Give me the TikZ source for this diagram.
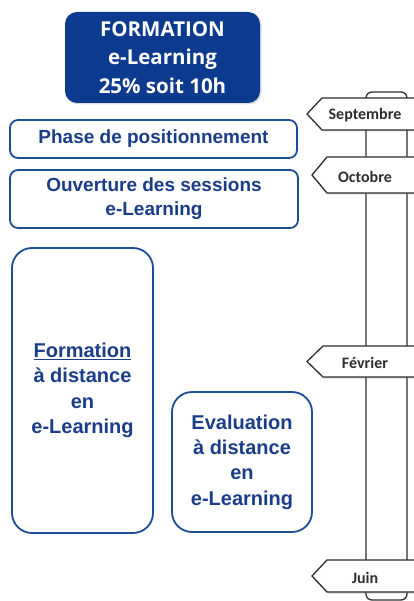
\documentclass[tikz,border=0pt]{standalone}
\usepackage{fontspec}
\setmainfont{Liberation Sans}
\newfontfamily\headfont{Open Sans}
\newfontfamily\signfont{Carlito}
\usetikzlibrary{shadows}
\definecolor{navy}{HTML}{0B3A8E}
\definecolor{boxline}{HTML}{1F4C98}
\definecolor{boxtext}{HTML}{1B3D88}
\definecolor{postline}{HTML}{2E2E2E}

\begin{document}
\begin{tikzpicture}[x=1pt,y=-1pt,
    head/.style={fill=navy, rounded corners=12pt, text=white, align=center,
      font=\headfont\bfseries\fontsize{20.5}{28.5}\selectfont,
      drop shadow={opacity=0.25,shadow xshift=1.5pt,shadow yshift=-1.5pt}},
    phase/.style={draw=boxline, line width=1.8pt, fill=white, text=boxtext,
      align=center, inner sep=0pt, font=\bfseries\fontsize{19}{24}\selectfont},
    bigphase/.style={phase, rounded corners=20pt, font=\bfseries\fontsize{20}{25.3}\selectfont},
    sign/.style={draw=postline, line width=1.3pt, fill=white,
      drop shadow={opacity=0.3,shadow xshift=1pt,shadow yshift=-1.5pt}},
    signtext/.style={text=postline, font=\signfont\bfseries\fontsize{16}{18}\selectfont}]
    \clip (0,0) rectangle (414,601);
    % bloc de titre
    \node[head, minimum width=195pt, minimum height=91pt] (head) at (162.5,57.5)
      {FORMATION\\e-Learning\\25\% soit 10h};
    % etapes
    \node[phase, rounded corners=8pt, minimum width=287pt, minimum height=38pt]
      (phase) at (153.5,139) {Phase de positionnement};
    \node[phase, rounded corners=8pt, minimum width=288pt, minimum height=58pt]
      (ouverture) at (154,199) {Ouverture des sessions\\e-Learning};
    \node[bigphase, minimum width=141pt, minimum height=285pt]
      (formation) at (82.5,390.5) {\underline{Formation}\\à distance\\en\\e-Learning};
    \node[bigphase, minimum width=140pt, minimum height=140pt]
      (evaluation) at (242,462) {Evaluation\\à distance\\en\\e-Learning};
    % poteau
    \draw[postline, line width=1.3pt, rounded corners=6pt] (366,92) rectangle (407,600);
    % panneaux
    \foreach \ytop/\ybot/\xtip/\xsh/\name/\month in
      {98/130/307/322/sep/Septembre, 157/193/312/327/oct/Octobre,
       346/377/307/323/fev/Février, 560/592/312/327/juin/Juin}
    {
      \draw[sign] (420,\ytop) -- (\xsh,\ytop) -- (\xtip,{(\ytop+\ybot)/2})
        -- (\xsh,\ybot) -- (420,\ybot) -- cycle;
      \node[signtext] (\name) at (365,{(\ytop+\ybot)/2+1.5}) {\month};
    }
\end{tikzpicture}
\end{document}
